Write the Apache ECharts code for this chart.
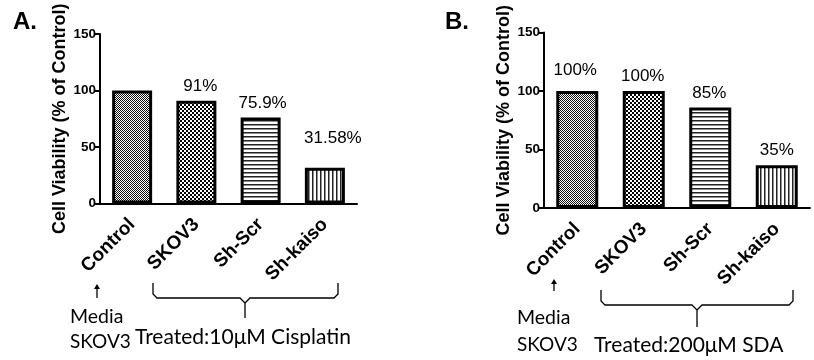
<!DOCTYPE html>
<html>
<head>
<meta charset="utf-8">
<script src="https://cdn.jsdelivr.net/npm/echarts@6/dist/echarts.min.js"></script>
<style>
  html, body { margin: 0; padding: 0; background: #fff; }
  #chart { width: 814px; height: 360px; }
</style>
</head>
<body>
<div id="chart"></div>
<script>
// data
var categories = ['Control', 'SKOV3', 'Sh-Scr', 'Sh-kaiso']
var valuesA = [100, 91, 76, 31.6]
var labelsA = ['', '91%', '75.9%', '31.58%']
var valuesB = [100, 100, 86, 36.5]
var labelsB = ['100%', '100%', '85%', '35%']
var yMin = 0
var yMax = 150
var yStep = 50

// label nudges (px) so the percent texts sit like in the figure
var offA = [[0, 0], [4, 0], [2, 0], [8, -15]]
var offB = [[-2, -6], [-1, 0], [-1, 0], [0, 0]]

// fill patterns: fine stipple, checker, horizontal lines, vertical lines
function makePattern (kind) {
  var c = document.createElement('canvas')
  var ctx = c.getContext('2d')
  if (kind === 'stipple') {
    c.width = 2; c.height = 2
    ctx.fillStyle = '#fff'; ctx.fillRect(0, 0, 2, 2)
    ctx.fillStyle = '#111'
    ctx.fillRect(0, 0, 1, 1); ctx.fillRect(1, 1, 1, 1)
  } else if (kind === 'checker') {
    c.width = 4; c.height = 4
    ctx.fillStyle = '#fff'; ctx.fillRect(0, 0, 4, 4)
    ctx.fillStyle = '#000'
    ctx.fillRect(0, 0, 2, 2); ctx.fillRect(2, 2, 2, 2)
  } else if (kind === 'hline') {
    c.width = 4; c.height = 4
    ctx.fillStyle = '#fff'; ctx.fillRect(0, 0, 4, 4)
    ctx.fillStyle = '#222'; ctx.fillRect(0, 0, 4, 1.5)
  } else {
    c.width = 4; c.height = 4
    ctx.fillStyle = '#fff'; ctx.fillRect(0, 0, 4, 4)
    ctx.fillStyle = '#222'; ctx.fillRect(0, 0, 1.5, 4)
  }
  return { image: c, repeat: 'repeat' }
}
var patterns = [makePattern('stipple'), makePattern('checker'), makePattern('hline'), makePattern('vline')]

var arial = 'Liberation Sans'
var calibri = 'Lato'

function buildData (vals, labels, offs) {
  return vals.map(function (v, i) {
    return {
      value: v,
      itemStyle: { color: patterns[i] },
      label: { formatter: labels[i], offset: offs[i] }
    }
  })
}

function xAxisOf (idx) {
  return {
    type: 'category',
    gridIndex: idx,
    data: categories,
    axisLine: { lineStyle: { color: '#000', width: 2 } },
    axisTick: { alignWithLabel: true, length: 5, lineStyle: { color: '#000', width: 2 } },
    axisLabel: { rotate: 45, margin: 18, color: '#000', fontWeight: 'bold', fontSize: 19, fontFamily: arial, interval: 0 }
  }
}

function yAxisOf (idx) {
  return {
    type: 'value',
    gridIndex: idx,
    min: yMin,
    max: yMax,
    interval: yStep,
    name: 'Cell Viability (% of Control)',
    nameLocation: 'middle',
    nameRotate: 90,
    nameGap: 31,
    nameTextStyle: { color: '#000', fontWeight: 'bold', fontSize: 18, fontFamily: arial },
    axisLine: { show: true, lineStyle: { color: '#000', width: 2 } },
    axisTick: { show: true, length: 5, lineStyle: { color: '#000', width: 2 } },
    axisLabel: { color: '#000', fontWeight: 'bold', fontSize: 13.5, fontFamily: arial, margin: 4 },
    splitLine: { show: false }
  }
}

function barSeries (idx, vals, labels, offs, w) {
  return {
    type: 'bar',
    xAxisIndex: idx,
    yAxisIndex: idx,
    barWidth: w,
    data: buildData(vals, labels, offs),
    itemStyle: { borderColor: '#000', borderWidth: 3 },
    label: { show: true, position: 'top', distance: 6, color: '#000', fontSize: 17, fontFamily: arial },
    animation: false
  }
}

// brace drawn as polylines: left end, horizontal run, tip, right end
function brace (x1, x2, top, mid, tipX, tipY) {
  var line = { stroke: '#000', lineWidth: 1.3, fill: null }
  return [
    { type: 'polyline', shape: { points: [[x1, top], [x1, mid - 4], [x1 + 4, mid], [tipX - 5, mid], [tipX, mid + 5], [tipX, tipY]] }, style: line },
    { type: 'polyline', shape: { points: [[x2, top], [x2, mid - 4], [x2 - 4, mid], [tipX + 5, mid], [tipX, mid + 5]] }, style: line }
  ]
}

function arrow (x, yTop, yBot) {
  return [
    { type: 'line', shape: { x1: x, y1: yBot, x2: x, y2: yTop + 3 }, style: { stroke: '#000', lineWidth: 1.3 } },
    { type: 'polygon', shape: { points: [[x, yTop], [x - 3, yTop + 5], [x + 3, yTop + 5]] }, style: { fill: '#000' } }
  ]
}

function txt (x, y, s, align, size, weight, fam) {
  return {
    type: 'text', x: x, y: y,
    style: { text: s, fill: '#000', font: (weight || 'normal') + ' ' + size + 'px "' + fam + '"', textAlign: align, textVerticalAlign: 'middle' }
  }
}

var graphics = [
  txt(13, 22, 'A.', 'left', 24, 'bold', arial),
  txt(445, 22, 'B.', 'left', 24, 'bold', arial),
  txt(70, 317, 'Media', 'left', 19.5, 'normal', calibri),
  txt(70, 342, 'SKOV3', 'left', 19, 'normal', calibri),
  txt(243, 337, 'Treated:10\u03bcM Cisplatin', 'center', 21, 'normal', calibri),
  txt(517, 318, 'Media', 'left', 19.5, 'normal', calibri),
  txt(517, 345, 'SKOV3', 'left', 19, 'normal', calibri),
  txt(594, 345, 'Treated:200\u03bcM SDA', 'left', 21, 'normal', calibri)
]
graphics = graphics.concat(arrow(97, 284, 298), arrow(554, 279, 291))
graphics = graphics.concat(brace(153, 338, 283, 298, 245, 318), brace(601, 793, 290, 305, 697, 327))

var myChart = echarts.init(document.getElementById('chart'), null, { renderer: 'canvas' })
var option = {
  backgroundColor: '#fff',
  animation: false,
  grid: [
    { left: 100, top: 34, width: 257, height: 169.5 },
    { left: 544, top: 32.5, width: 266, height: 175.5 }
  ],
  xAxis: [xAxisOf(0), xAxisOf(1)],
  yAxis: [yAxisOf(0), yAxisOf(1)],
  series: [
    barSeries(0, valuesA, labelsA, offA, 40),
    barSeries(1, valuesB, labelsB, offB, 42)
  ],
  graphic: graphics
}
myChart.setOption(option)
</script>
</body>
</html>
